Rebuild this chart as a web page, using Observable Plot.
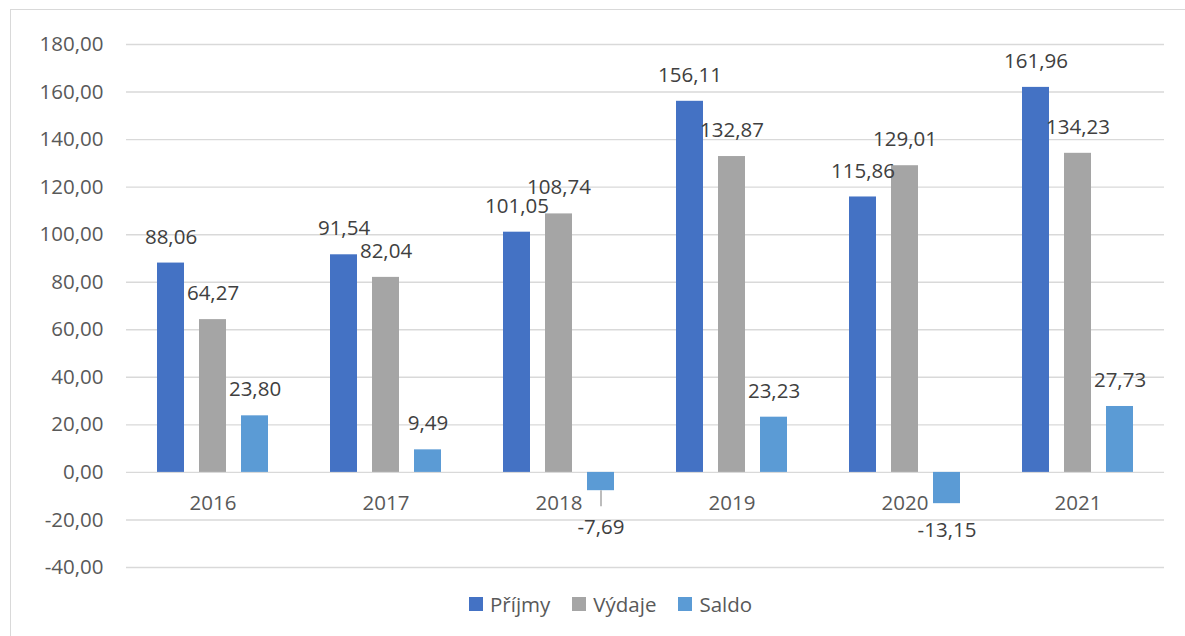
<!DOCTYPE html>
<html>
<head>
<meta charset="utf-8">
<script src="https://cdn.jsdelivr.net/npm/d3@7"></script>
<script src="https://cdn.jsdelivr.net/npm/@observablehq/plot@0.6"></script>
<style>
  html, body { margin: 0; padding: 0; background: #ffffff; }
  body { width: 1185px; height: 636px; position: relative; overflow: hidden; font-family: "Open Sans", sans-serif; }
  #frame { position: absolute; left: 10px; top: 9px; width: 1200px; height: 650px;
           border-top: 1.5px solid #d9d9d9; border-left: 1.5px solid #d9d9d9; box-sizing: border-box; }
  #chart { position: absolute; left: 0; top: 0; }
  #legend { position: absolute; left: 469px; top: 589px; display: flex; align-items: center;
            font-size: 20.5px; color: #595959; line-height: 30px; }
  #legend .item { display: flex; align-items: center; margin-right: 22px; }
  #legend .sw { width: 14px; height: 14px; margin-right: 7px; }
</style>
</head>
<body>
<div id="frame"></div>
<div id="chart"></div>
<div id="legend"></div>
<script>
const years = ["2016", "2017", "2018", "2019", "2020", "2021"];
const seriesNames = ["Příjmy", "Výdaje", "Saldo"];
const prijmy = [88.06, 91.54, 101.05, 156.11, 115.86, 161.96];
const vydaje = [64.27, 82.04, 108.74, 132.87, 129.01, 134.23];
const saldo = [23.80, 9.49, -7.69, 23.23, -13.15, 27.73];
const seriesColors = ["#4472C4", "#A5A5A5", "#5B9BD5"];
const yTicks = [-40, -20, 0, 20, 40, 60, 80, 100, 120, 140, 160, 180];

const seriesValues = [prijmy, vydaje, saldo];
const rows = [];
years.forEach((yr, i) => {
  seriesNames.forEach((s, j) => rows.push({year: yr, series: s, value: seriesValues[j][i]}));
});
const fmt = v => v.toFixed(2).replace(".", ",");

const pos = rows.filter(d => d.value >= 0);
const negStd = rows.filter(d => d.value < 0 && d.year !== "2018");
const negMoved = rows.filter(d => d.value < 0 && d.year === "2018");

const chart = Plot.plot({
  width: 1185,
  height: 585,
  marginTop: 44,
  marginBottom: 18,
  marginLeft: 124,
  marginRight: 19,
  style: {fontFamily: "Open Sans", fontSize: "20.5px", color: "#595959", background: "transparent"},
  fx: {domain: years, paddingInner: 0, paddingOuter: 0, axis: null, label: null},
  x: {domain: seriesNames, paddingInner: 0.35, paddingOuter: 0.69, axis: null, label: null},
  y: {domain: [-40, 180], axis: null, label: null},
  color: {domain: seriesNames, range: seriesColors},
  marks: [
    Plot.gridY(yTicks, {stroke: "#d9d9d9", strokeOpacity: 1, strokeWidth: 1.4}),
    Plot.axisY(yTicks, {tickSize: 0, tickPadding: 23, tickFormat: fmt, fill: "#595959", fontSize: 20.5, label: null}),
    Plot.barY(rows, {fx: "year", x: "series", y: "value", fill: "series"}),
    Plot.text(years, {fx: d => d, y: d => 0, text: d => d, dy: 31, fill: "#595959", fontSize: 20.5}),
    Plot.text(pos, {fx: "year", x: "series", y: "value", text: d => fmt(d.value), dy: -26, fill: "#404040", fontSize: 20.5}),
    Plot.text(negStd, {fx: "year", x: "series", y: "value", text: d => fmt(d.value), dy: 27, fill: "#404040", fontSize: 20.5}),
    Plot.ruleX(negMoved, {fx: "year", x: "series", y1: "value", y2: "value", insetBottom: -16, stroke: "#a6a6a6", strokeWidth: 1.5}),
    Plot.text(negMoved, {fx: "year", x: "series", y: "value", text: d => fmt(d.value), dy: 37, fill: "#404040", fontSize: 20.5})
  ]
});
document.getElementById("chart").appendChild(chart);

const legend = document.getElementById("legend");
seriesNames.forEach((s, i) => {
  const item = document.createElement("div");
  item.className = "item";
  const sw = document.createElement("div");
  sw.className = "sw";
  sw.style.background = seriesColors[i];
  const t = document.createElement("span");
  t.textContent = s;
  item.appendChild(sw);
  item.appendChild(t);
  legend.appendChild(item);
});
</script>
</body>
</html>
